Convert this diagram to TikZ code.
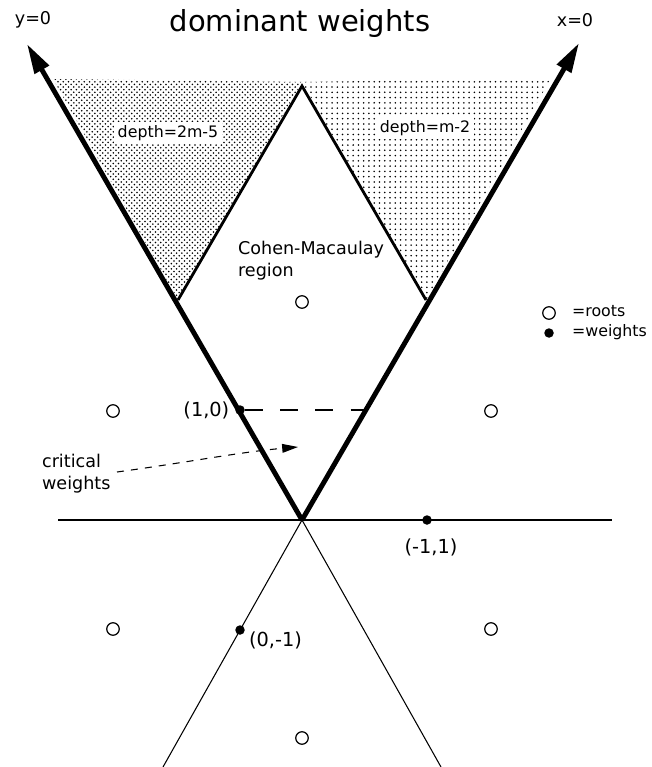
\documentclass[tikz,border=0pt]{standalone}
\usepackage{fontspec}
\setmainfont{DejaVu Sans}
\usepackage{tikz}
\usetikzlibrary{arrows.meta,patterns,positioning,calc}
\tikzset{
  axisarr/.style={line width=2.8pt, -{Triangle[length=17pt,width=9pt]}},
  wall/.style={line width=1.6pt},
  thinln/.style={line width=0.6pt},
  rootc/.style={circle, draw, line width=0.7pt, minimum size=0.25cm, inner sep=0pt},
  wdot/.style={circle, fill, minimum size=0.19cm, inner sep=0pt},
  lbl/.style={font=\fontsize{10}{12.5}\selectfont, inner sep=1pt},
  legl/.style={font=\fontsize{9}{11}\selectfont, inner sep=1pt, anchor=west},
  coordlbl/.style={font=\fontsize{11}{13}\selectfont, inner sep=1pt},
  boxlbl/.style={font=\fontsize{9}{11}\selectfont, fill=white, inner sep=2pt},
  dasharr/.style={line width=1.6pt, dash pattern=on 10pt off 10pt},
  critarr/.style={line width=0.6pt, dash pattern=on 4pt off 4pt,
                  -{Triangle[length=9pt,width=5pt]}},
}
\begin{document}
\begin{tikzpicture}[x=0.02cm, y=-0.02cm]
  \useasboundingbox (0,0) rectangle (652,767);

  % origin, fundamental weights and the diamond
  \coordinate (O)    at (302,520);
  \coordinate (tipL) at (27,44);
  \coordinate (tipR) at (579,43);
  \coordinate (dL)   at (178,300);
  \coordinate (dR)   at (426,300);
  \coordinate (apex) at (302,86);
  \coordinate (w2)   at (364,410);

  % shaded regions
  \fill[pattern=crosshatch dots] (dL) -- (53,79) -- (302,82) -- cycle;
  \fill[pattern=dots] (dR) -- (302,82) -- (551,78) -- cycle;

  % lines through the origin
  \draw[thinln] (58,520) -- (612,520);
  \draw[thinln] (O) -- (163,767);
  \draw[thinln] (O) -- (441,767);
  \draw[axisarr] (O) -- (tipL);
  \draw[axisarr] (O) -- (tipR);
  \draw[wall] (dL) -- (apex) -- (dR);

  \node[boxlbl] (d1) at (168,133) {depth=2m-5};
  \node[boxlbl] (d2) at (425,128) {depth=m-2};
  \node[lbl, align=left, anchor=north west] (cm) at (236,239) {Cohen-Macaulay\\region};

  % title and wall names
  \node[font=\fontsize{16.5}{18}\selectfont] (title) at (300,24) {dominant weights};
  \node[lbl] (y0) at (33,20) {y=0};
  \node[lbl] (x0) at (575,20) {x=0};

  % roots
  \foreach \n/\p in {r1/{(302,302)}, r2/{(113,411)}, r3/{(491,411)},
                     r4/{(113,629)}, r5/{(491,629)}, r6/{(302,738)}}
    \node[rootc] (\n) at \p {};

  % weights
  \node[wdot] (w10) at (240,410) {};
  \node[wdot] (wm1) at (427,520) {};
  \node[wdot] (w0m) at (240,630) {};
  \node[coordlbl, left=2pt of w10] (l10) {(1,0)};
  \node[coordlbl] (lm1) at (431,547) {(-1,1)};
  \node[coordlbl, anchor=west] (l0m) at (247,640) {(0,-1)};
  \draw[dasharr] (w10) -- (w2);

  % critical weights
  \node[lbl, align=left, anchor=west] (crit) at (40,474) {critical\\weights};
  \coordinate (crittip) at (298,447);
  \draw[critarr] (117,472) .. controls (190,462) and (240,452) .. (crittip);

  % legend
  \node[rootc] (lr) at (549,313) {};
  \node[wdot]  (lw) at (549,333) {};
  \node[legl] (lrt) at (570,311) {=roots};
  \node[legl] (lwt) at (570,332) {=weights};
\end{tikzpicture}
\end{document}
